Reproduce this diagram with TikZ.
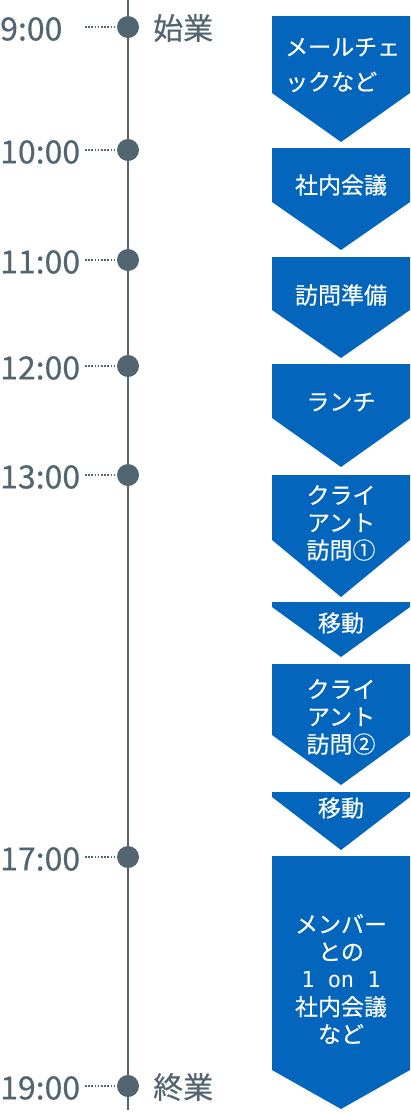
\documentclass[tikz,border=0pt]{standalone}
\usepackage{fontspec}
\setmainfont{Noto Sans CJK JP}
\newfontfamily\medf{Noto Sans CJK JP}[FakeBold=0.4]
\newfontfamily\monof{DejaVu Sans Mono}
\definecolor{tlgray}{RGB}{82,101,112}
\definecolor{boxblue}{RGB}{3,101,188}
\begin{document}
\begin{tikzpicture}[x=1pt,y=-1pt,
  timelbl/.style={anchor=west,inner sep=0,text=tlgray,font=\medf\fontsize{32}{32}\selectfont},
  evlbl/.style={anchor=west,inner sep=0,text=tlgray,font=\medf\fontsize{30}{30}\selectfont},
  boxtxt/.style={text=white,inner sep=0,align=center,font=\medf\fontsize{23}{27.5}\selectfont},
  tdot/.style={circle,fill=tlgray,minimum size=22pt,inner sep=0},
  tickline/.style={tlgray,line width=1.5pt,dash pattern=on 1.5pt off 1.7pt},
  blueshape/.style={fill=boxblue}]
\useasboundingbox (0,0) rectangle (410,1112);
% timeline
\coordinate (ltop) at (128,0);
\coordinate (lbot) at (128,1110);
\draw[tlgray,line width=2pt] (ltop) -- (lbot);
% dots, ticks, labels
\foreach \n/\yy/\lab in {a/27/9:00, b/150/10:00, c/260/11:00, d/366/12:00, e/475/13:00, f/857/17:00, g/1086/19:00}{
  \node[tdot] (dot\n) at (128,\yy) {};
  \coordinate (tick\n) at (85,\yy);
  \draw[tickline] (tick\n) -- (dot\n.west);
  \node[timelbl] (time\n) at (0,\yy+2) {\lab};
}
\node[evlbl] (start) at (153,28) {始業};
\node[evlbl] (end) at (153,1087) {終業};
% arrow boxes
\newcommand{\arrbox}[3]{\fill[blueshape] (272,#1) -- (410,#1) -- (410,#2) -- (341,#3) -- (272,#2) -- cycle;}
\arrbox{16}{93}{142}
\arrbox{148}{202}{250}
\arrbox{257}{310}{358}
\arrbox{364}{418}{467}
\arrbox{475}{540}{597}
\arrbox{602}{607}{657}
\arrbox{664}{735}{785}
\arrbox{792}{797}{850}
\arrbox{856}{1070}{1109}
% texts
\node[boxtxt,anchor=west,align=left,font=\medf\fontsize{23}{35}\selectfont] (t1) at (285,65) {メールチェ\\ックなど};
\node[boxtxt] (t2) at (341,185) {社内会議};
\node[boxtxt] (t3) at (341,295) {訪問準備};
\node[boxtxt] (t4) at (341,402) {ランチ};
\node[boxtxt] (t5) at (341,523) {クライ\\アント\\訪問①};
\node[boxtxt] (t6) at (341,623) {移動};
\node[boxtxt] (t7) at (341,717) {クライ\\アント\\訪問②};
\node[boxtxt] (t8) at (341,808) {移動};
\node[boxtxt] (t9) at (341,979) {メンバー\\との\\{\monof\fontsize{22}{27.5}\selectfont 1 on 1}\\社内会議\\など};
\end{tikzpicture}
\end{document}
